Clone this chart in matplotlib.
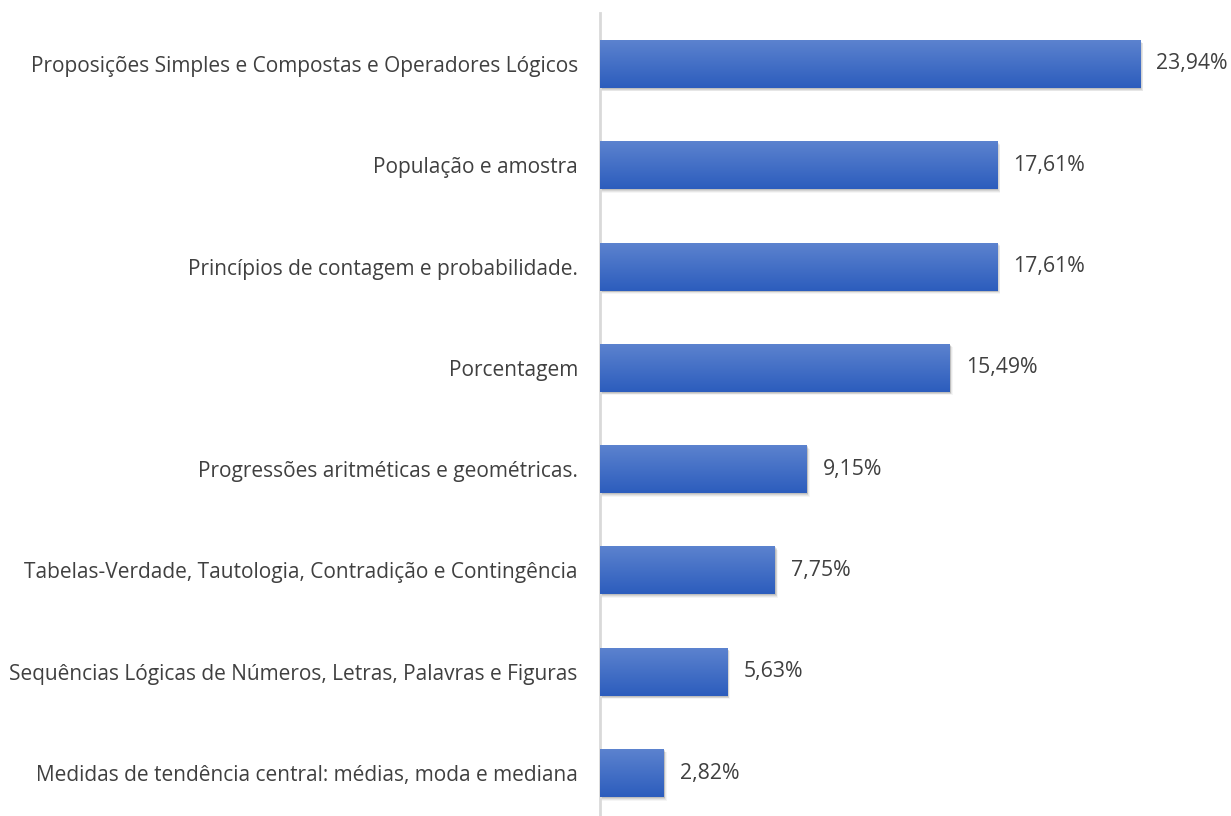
import numpy as np
import matplotlib.pyplot as plt
from matplotlib.colors import LinearSegmentedColormap
from matplotlib.patches import Rectangle

categories = [
    "Proposições Simples e Compostas e Operadores Lógicos",
    "População e amostra",
    "Princípios de contagem e probabilidade.",
    "Porcentagem",
    "Progressões aritméticas e geométricas.",
    "Tabelas-Verdade, Tautologia, Contradição e Contingência",
    "Sequências Lógicas de Números, Letras, Palavras e Figuras",
    "Medidas de tendência central: médias, moda e mediana",
]
values = [23.94, 17.61, 17.61, 15.49, 9.15, 7.75, 5.63, 2.82]
labels = ["23,94%", "17,61%", "17,61%", "15,49%", "9,15%", "7,75%", "5,63%", "2,82%"]

plt.rcParams['font.family'] = ['Open Sans', 'DejaVu Sans']
fig = plt.figure(figsize=(12.31, 8.16), dpi=100)
ax = fig.add_axes([600 / 1231, 0, 1 - 600 / 1231, 1 - 13 / 816])

n = len(categories)
ypos = np.arange(n)[::-1]
h = 0.474
grad = LinearSegmentedColormap.from_list('g', ['#2C5DBD', '#5D83CF'])

bars = ax.barh(ypos, values, height=h, color='none', edgecolor='none', zorder=3)
for b, v, y, lab in zip(bars, values, ypos, labels):
    # soft shadow
    for k, a in enumerate([0.10, 0.08, 0.06, 0.04]):
        d = 0.01 + 0.008 * k
        ax.add_patch(Rectangle((0, y - h / 2 - d), v + 0.05 + 0.03 * k, h,
                               facecolor='black', alpha=a, edgecolor='none', zorder=2))
    im = ax.imshow(np.linspace(0, 1, 100).reshape(-1, 1), cmap=grad, aspect='auto',
                   extent=(0, v, y - h / 2, y + h / 2), origin='lower', zorder=3)
    im.set_clip_path(b)
    ax.text(v + 0.72, y, lab, va='center', ha='left', fontsize=15.3, color='#404040')

ax.set_xlim(0, 27.97)
ax.set_ylim(-0.424, 7.503)
ax.set_yticks(ypos)
ax.set_yticklabels(categories, fontsize=15, color='#404040')
ax.tick_params(axis='y', length=0, pad=16)
ax.set_xticks([])
for s in ['top', 'right', 'bottom']:
    ax.spines[s].set_visible(False)
ax.spines['left'].set_color('#D9D9D9')
ax.spines['left'].set_linewidth(2)

fig.savefig('out.png', dpi=100)
